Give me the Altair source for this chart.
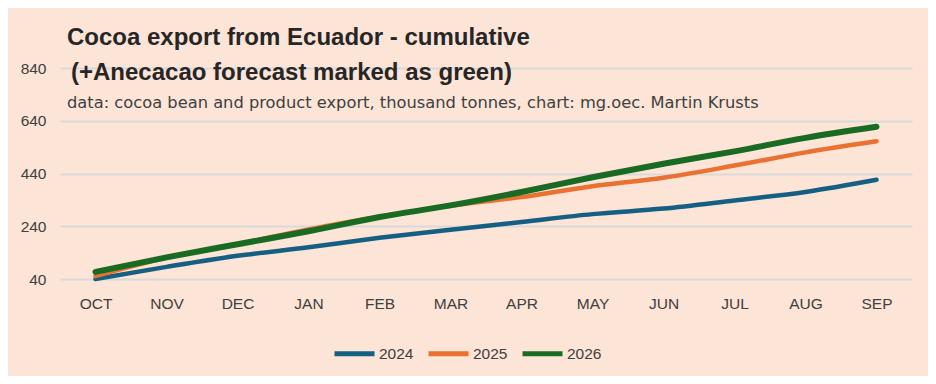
import altair as alt
import pandas as pd

months = ["OCT", "NOV", "DEC", "JAN", "FEB", "MAR", "APR", "MAY", "JUN", "JUL", "AUG", "SEP"]
y2024 = [40, 86, 128, 160, 196, 227, 256, 286, 307, 338, 370, 416]
y2025 = [51, 120, 172, 228, 276, 318, 351, 392, 424, 470, 520, 562]
y2026 = [67, 122, 172, 221, 275, 319, 370, 426, 477, 524, 575, 617]
years = ["2024", "2025", "2026"]
colors = ["#156082", "#E97132", "#196B24"]
y_ticks = [40, 240, 440, 640, 840]

title1 = "Cocoa export from Ecuador - cumulative"
title2 = " (+Anecacao forecast marked as green)"
subtitle = "data: cocoa bean and product export, thousand tonnes, chart: mg.oec. Martin Krusts"

rows = []
for yr, vals in zip(years, [y2024, y2025, y2026]):
    for m, v in zip(months, vals):
        rows.append({"month": m, "year": yr, "value": v})
df = pd.DataFrame(rows)

bg = "#FCE4D6"
txt = "#404040"

lines = alt.Chart(df).mark_line(interpolate="monotone", strokeCap="round").encode(
    x=alt.X("month:N", sort=months, scale=alt.Scale(paddingInner=0, paddingOuter=0.5),
            axis=alt.Axis(title=None, labelAngle=0, domain=False, ticks=False, grid=False,
                          labelFontSize=15.5, labelColor=txt, labelPadding=17,
                          labelFont="Liberation Sans")),
    y=alt.Y("value:Q", scale=alt.Scale(domain=[40, 840], nice=False, zero=False),
            axis=alt.Axis(title=None, values=y_ticks, domain=False, ticks=False,
                          gridColor="#D9D9D9", gridWidth=2, labelFontSize=15.5,
                          labelColor=txt, labelPadding=14, labelFont="Liberation Sans")),
    color=alt.Color("year:N", scale=alt.Scale(domain=years, range=colors),
                    legend=alt.Legend(title=None, orient="none", direction="horizontal",
                                      legendX=272, legendY=263,
                                      symbolType="stroke", symbolSize=1600,
                                      symbolStrokeWidth=5, labelFontSize=15.5,
                                      labelColor=txt, labelFont="Liberation Sans",
                                      columnPadding=4, labelOffset=2)),
    strokeWidth=alt.condition(alt.datum.year == "2026", alt.value(6), alt.value(4.5)),
)

t1 = alt.Chart(pd.DataFrame({"t": [title1]})).mark_text(
    align="left", baseline="alphabetic", fontSize=24, fontWeight="bold",
    font="Liberation Sans", color="#262626"
).encode(text="t:N", x=alt.value(7), y=alt.value(-23))

t2 = alt.Chart(pd.DataFrame({"t": [title2]})).mark_text(
    align="left", baseline="alphabetic", fontSize=24, fontWeight="bold",
    font="Liberation Sans", color="#262626"
).encode(text="t:N", x=alt.value(11), y=alt.value(12))

t3 = alt.Chart(pd.DataFrame({"t": [subtitle]})).mark_text(
    align="left", baseline="alphabetic", fontSize=16.3,
    font="DejaVu Sans", color=txt
).encode(text="t:N", x=alt.value(7), y=alt.value(40))

chart = alt.layer(lines, t1, t2, t3).properties(
    width=852, height=211, background=bg,
    padding={"left": 52, "top": 60, "right": 16, "bottom": 97},
    autosize=alt.AutoSizeParams(type="none"),
).configure_view(stroke=None)

chart.save("out.html", embed_options={"renderer": "svg", "actions": False})
